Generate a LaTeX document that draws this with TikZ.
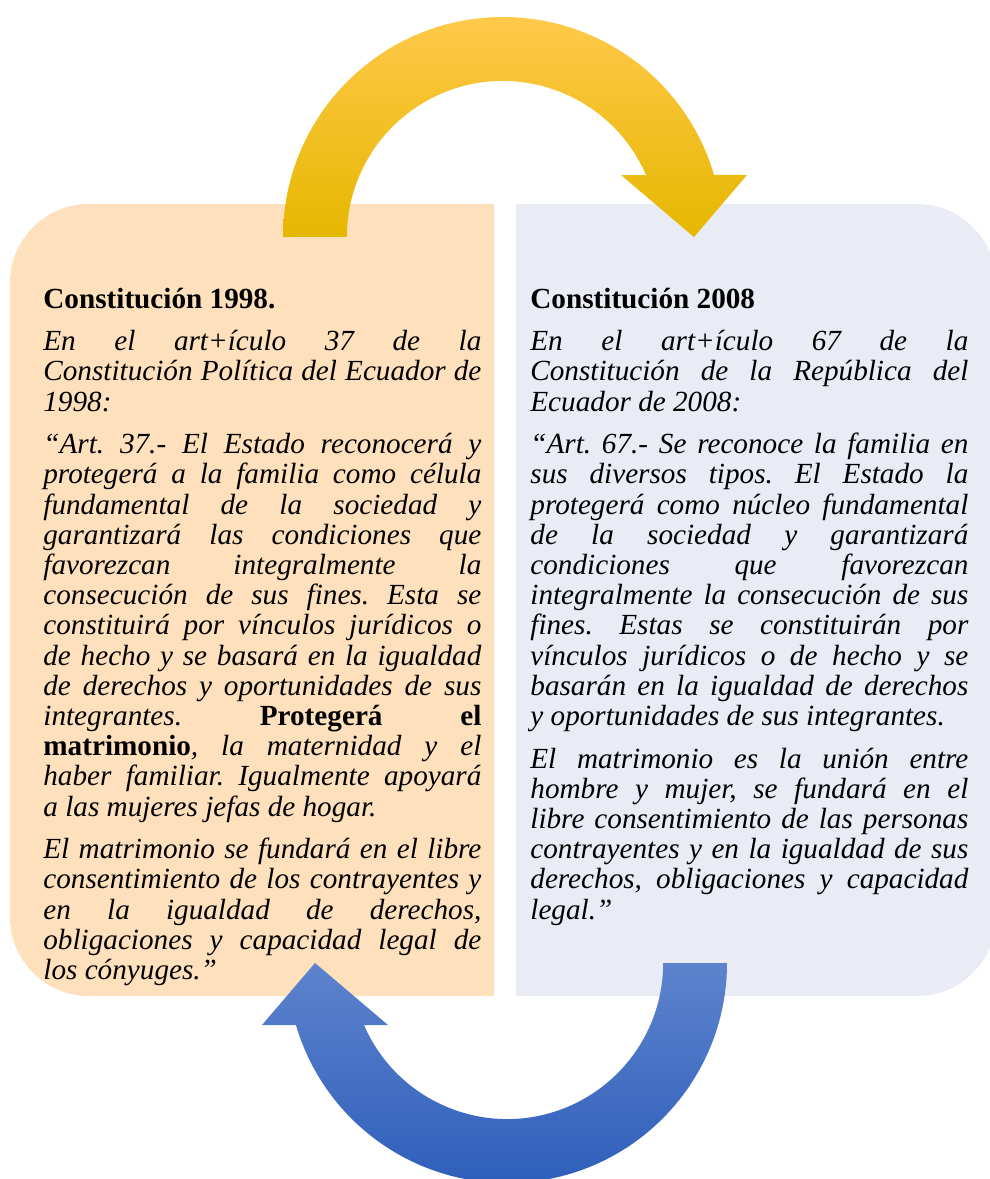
\documentclass[tikz,border=0pt]{standalone}
\usepackage{fontspec}
\setmainfont{Liberation Serif}
\definecolor{peach}{HTML}{FEE0BD}
\definecolor{lavender}{HTML}{E9EBF5}
\definecolor{goldtop}{HTML}{FFC94A}
\definecolor{goldmid}{HTML}{FFC200}
\definecolor{goldbot}{HTML}{E6B700}
\definecolor{bluetop}{HTML}{5D83CD}
\definecolor{bluebot}{HTML}{2F5FBB}
\newcommand{\colsetup}{\fontsize{14.6}{15.1}\selectfont\frenchspacing\setlength{\parindent}{0pt}\setlength{\parskip}{6.2pt}\hyphenpenalty=10000 \exhyphenpenalty=10000 \tolerance=10000 }
\begin{document}
\begin{tikzpicture}[x=0.5pt,y=-0.5pt,
        column/.style={anchor=base west,inner sep=0pt}]
        \clip (0,0) rectangle (990,1179);
        \fill[peach] (494,204) -- (89,204) arc[start angle=270,end angle=180,radius=79] -- (10,917) arc[start angle=180,end angle=90,radius=79] -- (494,996) -- cycle;
        \fill[lavender] (516,204) -- (917,204) arc[start angle=270,end angle=360,radius=79] -- (996,917) arc[start angle=0,end angle=90,radius=79] -- (516,996) -- cycle;
        \node[column] (old) at (43,308) {\begin{minipage}[t]{219pt}\colsetup
            \textbf{Constitución 1998.}\par
            \itshape En el art+ículo 37 de la\linebreak Constitución Política del Ecuador de\linebreak 1998:\par
            “Art. 37.- El Estado reconocerá y\linebreak protegerá a la familia como célula\linebreak fundamental de la sociedad y\linebreak garantizará las condiciones que\linebreak favorezcan integralmente la\linebreak consecución de sus fines. Esta se\linebreak constituirá por vínculos jurídicos o\linebreak de hecho y se basará en la igualdad\linebreak de derechos y oportunidades de sus\linebreak integrantes. \textbf{\upshape Protegerá el\linebreak matrimonio}, la maternidad y el\linebreak haber familiar. Igualmente apoyará\linebreak a las mujeres jefas de hogar.\par
            El matrimonio se fundará en el libre\linebreak consentimiento de los contrayentes y\linebreak en la igualdad de derechos,\linebreak obligaciones y capacidad legal de\linebreak los cónyuges.”
        \end{minipage}};
        \node[column] (new) at (530,308) {\begin{minipage}[t]{219pt}\colsetup
            \textbf{Constitución 2008}\par
            \itshape En el art+ículo 67 de la\linebreak Constitución de la República del\linebreak Ecuador de 2008:\par
            “Art. 67.- Se reconoce la familia en\linebreak sus diversos tipos. El Estado la\linebreak protegerá como núcleo fundamental\linebreak de la sociedad y garantizará\linebreak condiciones que favorezcan\linebreak integralmente la consecución de sus\linebreak fines. Estas se constituirán por\linebreak vínculos jurídicos o de hecho y se\linebreak basarán en la igualdad de derechos\linebreak y oportunidades de sus integrantes.\par
            El matrimonio es la unión entre\linebreak hombre y mujer, se fundará en el\linebreak libre consentimiento de las personas\linebreak contrayentes y en la igualdad de sus\linebreak derechos, obligaciones y capacidad\linebreak legal.”
        \end{minipage}};
        \shade[top color=goldtop,middle color=goldmid,bottom color=goldbot] (283,237) arc[start angle=180,end angle=343.6,radius=220] -- (747,175) -- (694,237) -- (621,175) -- (646,175) arc[start angle=336.6,end angle=180,radius=156] -- cycle;
        \shade[top color=bluetop,bottom color=bluebot] (727,963) arc[start angle=0,end angle=163.6,radius=220] -- (262,1025) -- (315,963) -- (388,1025) -- (364,1025) arc[start angle=156.6,end angle=0,radius=156] -- cycle;
    \end{tikzpicture}
\end{document}
